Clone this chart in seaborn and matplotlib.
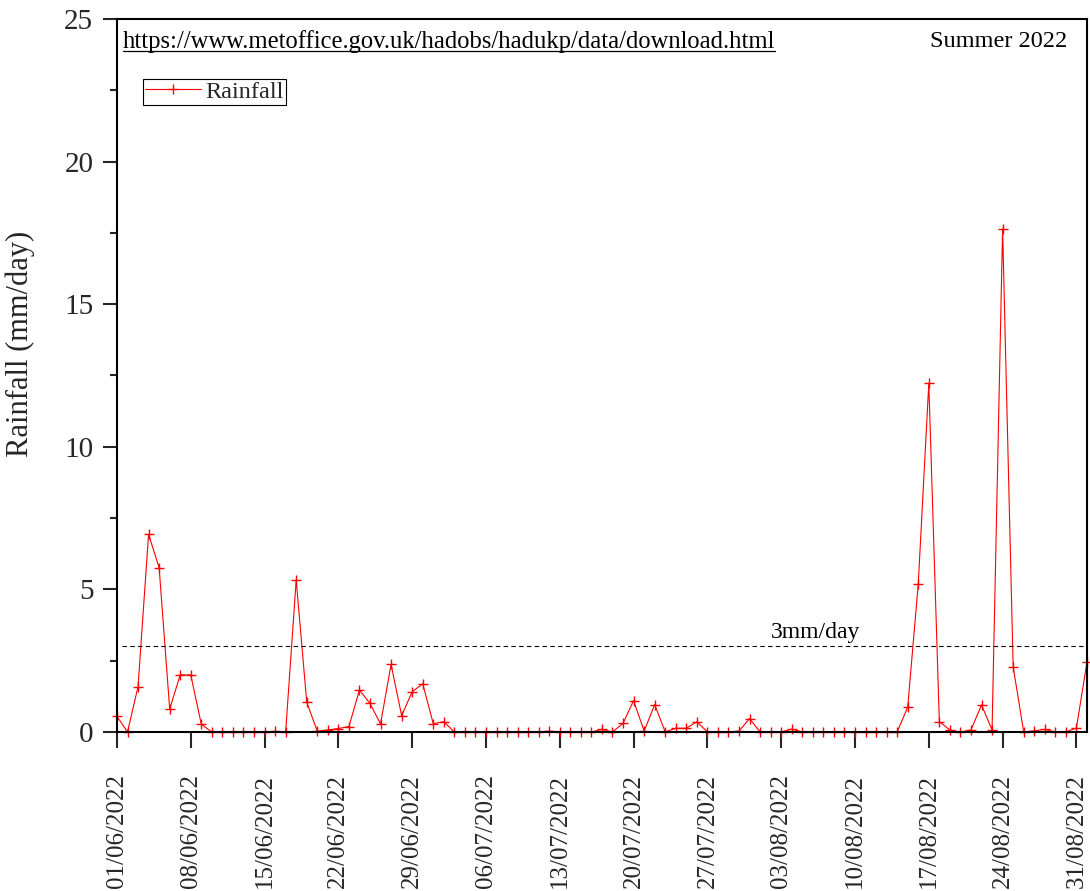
import matplotlib
matplotlib.use("Agg")
import matplotlib.pyplot as plt
import matplotlib.dates as mdates
from matplotlib.ticker import MultipleLocator
import matplotlib.transforms as mtransforms
import numpy as np
import pandas as pd
import seaborn as sns

# Daily rainfall, 1 June - 1 September 2022 (mm/day)
start_date = "2022-06-01"
end_date = "2022-09-01"
rainfall = [
    0.55, 0.00, 1.59, 6.93, 5.76, 0.81, 2.00, 2.00, 0.27, 0.00,   # 01/06 - 10/06
    0.00, 0.00, 0.00, 0.00, 0.00, 0.02, 0.00, 5.33, 1.04, 0.03,   # 11/06 - 20/06
    0.07, 0.12, 0.19, 1.47, 1.00, 0.28, 2.37, 0.57, 1.41, 1.69,   # 21/06 - 30/06
    0.29, 0.36, 0.00, 0.00, 0.00, 0.00, 0.00, 0.00, 0.00, 0.00,   # 01/07 - 10/07
    0.00, 0.03, 0.00, 0.00, 0.00, 0.00, 0.09, 0.00, 0.30, 1.10,   # 11/07 - 20/07
    0.03, 0.96, 0.00, 0.13, 0.13, 0.36, 0.00, 0.00, 0.00, 0.03,   # 21/07 - 30/07
    0.47, 0.00, 0.00, 0.00, 0.10, 0.00, 0.00, 0.00, 0.00, 0.00,   # 31/07 - 09/08
    0.00, 0.00, 0.00, 0.00, 0.00, 0.87, 5.19, 12.22, 0.36, 0.07,  # 10/08 - 19/08
    0.00, 0.07, 0.95, 0.07, 17.64, 2.29, 0.00, 0.04, 0.09, 0.00,  # 20/08 - 29/08
    0.00, 0.14, 2.44,                                             # 30/08 - 01/09
]
threshold = 3.0
threshold_label = "3mm/day"
series_label = "Rainfall"
source_url = "https://www.metoffice.gov.uk/hadobs/hadukp/data/download.html"
period_label = "Summer 2022"
y_label = "Rainfall (mm/day)"

dates = pd.date_range(start_date, end_date, freq="D")
tick_dates = pd.date_range("2022-06-01", "2022-08-31", freq="7D")
df = pd.DataFrame({"date": dates, "rainfall": rainfall})

sns.set_style("ticks")
plt.rcParams["font.family"] = ["Liberation Serif", "DejaVu Serif"]

fig, ax = plt.subplots(figsize=(10.9, 8.91), dpi=100)
fig.subplots_adjust(left=0.1073, right=0.9972, top=0.9787, bottom=0.1785)

sns.lineplot(data=df, x="date", y="rainfall", ax=ax, color="#ff0000",
             linewidth=0.8, marker="+", markersize=7.5, markeredgewidth=1.0,
             markeredgecolor="#ff0000", label=series_label)
for line in ax.get_lines():
    line.set_clip_on(False)

# Threshold reference line and its caption
ax.axhline(threshold, xmin=0.005, xmax=0.996, color="black",
           linewidth=0.8, linestyle=(0, (4, 3)))
blend = mtransforms.blended_transform_factory(ax.transAxes, ax.transData)
ax.text(0.7206, threshold + 0.12, threshold_label, transform=blend,
        ha="center", va="bottom", fontsize=17, color="black")

ax.set_xlim(dates[0], dates[-1])
ax.set_ylim(0, 25)
ax.set_xticks(tick_dates)
ax.xaxis.set_major_formatter(mdates.DateFormatter("%d/%m/%Y"))
ax.yaxis.set_major_locator(MultipleLocator(5))
ax.yaxis.set_minor_locator(MultipleLocator(2.5))
ax.set_xlabel("")
ax.set_ylabel(y_label, fontsize=22)
ax.yaxis.set_label_coords(-0.085, 0.544)

ax.tick_params(axis="x", which="major", direction="out", length=11.5, width=1.5,
               labelsize=18, rotation=90, pad=19, top=False)
ax.tick_params(axis="y", which="major", direction="out", length=10, width=1.5,
               labelsize=21, pad=7, right=False)
ax.tick_params(axis="y", which="minor", direction="out", length=5, width=1.5,
               right=False)
for side in ["left", "right", "top", "bottom"]:
    ax.spines[side].set_visible(True)
    ax.spines[side].set_linewidth(1.5)
    ax.spines[side].set_color("black")
    ax.spines[side].set_zorder(3)

leg = ax.legend(loc="upper left", bbox_to_anchor=(0.0268, 0.916),
                fontsize=17.5, frameon=True, fancybox=False, shadow=False,
                borderpad=0.08, handlelength=2.3, handletextpad=0.2,
                borderaxespad=0, numpoints=1)
leg.get_frame().set_edgecolor("black")
leg.get_frame().set_linewidth(0.8)
leg.get_frame().set_alpha(1)

url_text = ax.text(0.006, 0.968, source_url, transform=ax.transAxes,
                   ha="left", va="center", fontsize=17.7, color="black")
ax.text(0.980, 0.968, period_label, transform=ax.transAxes,
        ha="right", va="center", fontsize=17.5, color="black")

# Underline the source link
fig.canvas.draw()
bb = url_text.get_window_extent().transformed(ax.transAxes.inverted())
ax.plot([bb.x0, bb.x1], [bb.y0 + 0.003, bb.y0 + 0.003], transform=ax.transAxes,
        color="black", linewidth=0.9, clip_on=False)

fig.savefig("out.png", dpi=100)
